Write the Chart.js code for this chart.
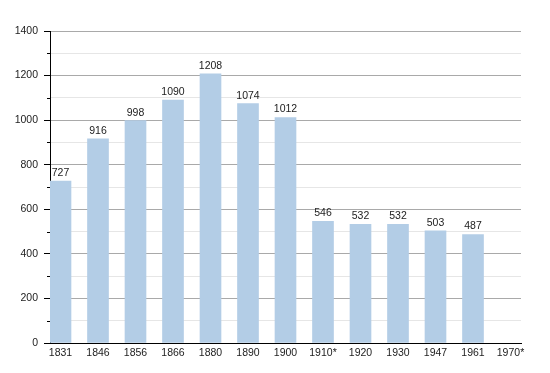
<!DOCTYPE html>
<html>
<head>
<meta charset="utf-8">
<script src="https://cdn.jsdelivr.net/npm/chart.js@4"></script>
<style>
  html, body { margin: 0; padding: 0; background: #fff; }
  #wrap { width: 550px; height: 373px; }
</style>
</head>
<body>
<div id="wrap"><canvas id="popChart" width="550" height="373"></canvas></div>
<script>
// data
const years = ['1831', '1846', '1856', '1866', '1880', '1890', '1900', '1910*', '1920', '1930', '1947', '1961', '1970*'];
const population = [727, 916, 998, 1090, 1208, 1074, 1012, 546, 532, 532, 503, 487, null];
const yTicks = [0, 200, 400, 600, 800, 1000, 1200, 1400];

const FONT = '"Liberation Sans", Arial, Helvetica, sans-serif';

// value labels above bars
const valueLabels = {
    id: 'valueLabels',
    afterDatasetsDraw(chart) {
        const ctx = chart.ctx;
        const meta = chart.getDatasetMeta(0);
        ctx.save();
        ctx.font = '10.5px ' + FONT;
        ctx.fillStyle = '#222';
        ctx.textAlign = 'center';
        ctx.textBaseline = 'alphabetic';
        meta.data.forEach((bar, i) => {
            const v = population[i];
            if (v == null) return;
            ctx.fillText(String(v), bar.x, bar.y - 5);
        });
        ctx.restore();
    }
};

// short minor ticks on the y axis
const minorTicks = {
    id: 'minorTicks',
    afterDraw(chart) {
        const y = chart.scales.y;
        const ctx = chart.ctx;
        ctx.save();
        ctx.strokeStyle = '#000';
        ctx.lineWidth = 1;
        y.ticks.forEach(t => {
            if (t.value % 200 === 0) return;
            const py = Math.round(y.getPixelForValue(t.value)) + 0.5;
            ctx.beginPath();
            ctx.moveTo(y.right - 3, py);
            ctx.lineTo(y.right, py);
            ctx.stroke();
        });
        ctx.restore();
    }
};

const ctx = document.getElementById('popChart').getContext('2d');
new Chart(ctx, {
    type: 'bar',
    data: {
        datasets: [{
            data: population.map((v, i) => ({ x: i, y: v })),
            backgroundColor: '#b3cde6',
            borderWidth: 0,
            barThickness: 21
        }]
    },
    options: {
        responsive: false,
        animation: false,
        events: [],
        layout: { padding: { top: 31, right: 29, bottom: 0, left: 0 } },
        plugins: { legend: { display: false }, tooltip: { enabled: false } },
        scales: {
            x: {
                type: 'linear',
                offset: false,
                min: -0.28,
                max: years.length - 1 + 0.28,
                afterBuildTicks: s => { s.ticks = years.map((_, i) => ({ value: i })); },
                afterFit: s => { s.height = 30; },
                grid: { display: true, drawOnChartArea: false, drawTicks: false },
                border: { display: true, color: '#000', width: 1 },
                ticks: {
                    padding: 4,
                    maxRotation: 0,
                    autoSkip: false,
                    color: '#222',
                    font: { size: 10.5, family: FONT },
                    callback: v => years[v] ?? ''
                }
            },
            y: {
                min: 0,
                max: 1400,
                afterFit: s => { s.width = 50; },
                ticks: {
                    stepSize: 100,
                    padding: 6,
                    color: '#222',
                    font: { size: 10.5, family: FONT },
                    callback: v => yTicks.includes(v) ? String(v) : ''
                },
                grid: {
                    color: c => c.tick && c.tick.value % 200 === 0 ? '#a9a9a9' : '#e6e6e6',
                    tickColor: c => c.tick && c.tick.value % 200 === 0 ? '#000' : 'rgba(0,0,0,0)',
                    tickLength: 6
                },
                border: { display: true, color: '#000', width: 1 }
            }
        }
    },
    plugins: [valueLabels, minorTicks]
});
</script>
</body>
</html>
